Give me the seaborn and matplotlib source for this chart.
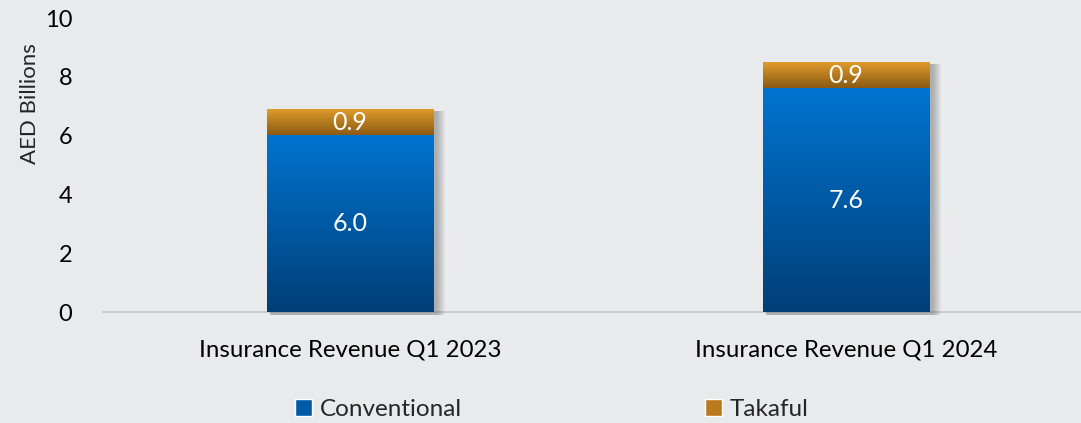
import numpy as np
import pandas as pd
import matplotlib
matplotlib.use("Agg")
import matplotlib.pyplot as plt
from matplotlib.colors import LinearSegmentedColormap
from matplotlib.patches import Patch, Rectangle
import seaborn as sns

# Daten
categories = ["Insurance Revenue Q1 2023", "Insurance Revenue Q1 2024"]
conventional = [6.0, 7.6]
takaful = [0.9, 0.9]

df = pd.DataFrame({"cat": categories, "Conventional": conventional, "Takaful": takaful})
df["Total"] = df["Conventional"] + df["Takaful"]

sns.set_theme(style="white")
plt.rcParams['font.family'] = ['Lato', 'DejaVu Sans']

bg = "#e9eaec"
fig = plt.figure(figsize=(10.81, 4.23), dpi=100, facecolor=bg)
ax = fig.add_axes([0.095, 0.262, 0.905, 0.695], facecolor=bg)

# Gesamt (Takaful oben), dann Conventional darüber
sns.barplot(data=df, x="cat", y="Total", color="#c0801f", width=0.335,
            saturation=1, ax=ax, zorder=2)
sns.barplot(data=df, x="cat", y="Conventional", color="#0060b0", width=0.335,
            saturation=1, ax=ax, zorder=3)

blue_cmap = LinearSegmentedColormap.from_list("b", ["#003f78", "#0074d0"])
gold_cmap = LinearSegmentedColormap.from_list("g", ["#875812", "#e09b2b"])

ax.set_xlim(-0.498, 1.474)
ax.set_ylim(0, 10)

px_x = 1.972 / (0.905 * 1081)   # Dateneinheiten pro Pixel (x)
px_y = 10 / (0.695 * 423)       # Dateneinheiten pro Pixel (y)

patches = list(ax.patches)
n = len(categories)
grad = np.linspace(0, 1, 256).reshape(-1, 1)
for i, p in enumerate(patches):
    x0, y0 = p.get_x(), p.get_y()
    w, h = p.get_width(), p.get_height()
    is_tak = i < n
    if is_tak:
        y0 = conventional[i]
        h = takaful[i]
        cmap = gold_cmap
        z = 2.5
        # weicher Schatten rechts
        top = df["Total"][i]
        for k in range(1, 10):
            ax.add_patch(Rectangle((x0 + 3 * px_x, -3 * px_y), w + k * px_x,
                                   top + px_y, facecolor="#555555",
                                   alpha=0.05, zorder=1.5, linewidth=0,
                                   clip_on=False))
    else:
        cmap = blue_cmap
        z = 3.5
    ax.imshow(grad, extent=(x0, x0 + w, y0, y0 + h), origin="lower",
              cmap=cmap, aspect="auto", zorder=z, interpolation="bicubic")
    p.set_visible(False)

ax.set_xlim(-0.498, 1.474)
ax.set_ylim(0, 10)

# Beschriftungen
for i in range(n):
    ax.text(i, conventional[i] / 2, f"{conventional[i]:.1f}", ha="center",
            va="center", color="white", fontsize=18, zorder=5)
    ax.text(i, conventional[i] + takaful[i] / 2, f"{takaful[i]:.1f}",
            ha="center", va="center", color="white", fontsize=18, zorder=5)

ax.set_yticks([0, 2, 4, 6, 8, 10])
ax.tick_params(axis="y", labelsize=17, pad=22, length=0, colors="black")
ax.tick_params(axis="x", labelsize=17.3, pad=20, length=0, colors="black")
ax.set_xlabel("")
ax.set_ylabel("AED Billions", fontsize=16)
ax.yaxis.set_label_coords(-0.064, 0.71)
for s in ["top", "right", "left"]:
    ax.spines[s].set_visible(False)
ax.spines["bottom"].set_color("#c8c8c8")
ax.spines["bottom"].set_linewidth(1.2)
ax.spines["bottom"].set_zorder(1)

handles = [Patch(facecolor="#005aa8", label="Conventional"),
           Patch(facecolor="#b87a1c", label="Takaful")]
fig.legend(handles=handles, loc="lower left", bbox_to_anchor=(0.253, -0.045),
           ncol=2, frameon=False, fontsize=17.5, handlelength=0.7,
           handleheight=0.7, handletextpad=0.3, columnspacing=10.0)

fig.savefig("out.png", dpi=100, facecolor=bg)
